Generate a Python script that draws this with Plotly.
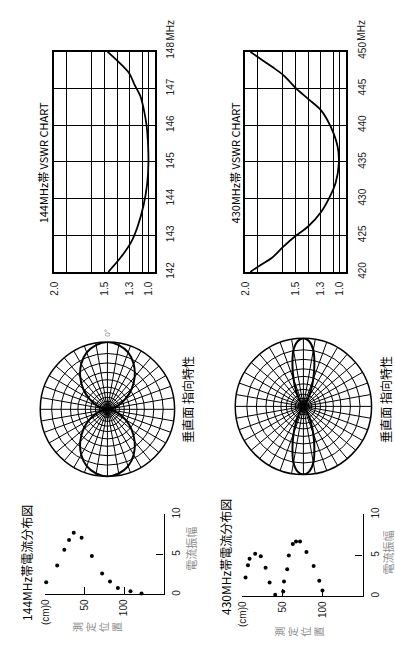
import plotly.graph_objects as go

W, H = 395, 652

# ---------------- data ----------------
# VSWR charts: x = position on the VSWR grid (divisions, 2.0 at 0 ... 1.0 at 7.5), y = frequency
vswr_grid_pos = [0, 1, 3, 4, 5, 6, 7, 7.5, 8]
vswr_grid_text = ["2.0", "", "", "1.5", "", "1.3", "", "1.0", ""]

vswr144_freq = [142.0, 142.4, 142.8, 143.2, 143.8, 144.4, 145.0, 145.6, 146.0, 146.4, 146.8, 147.1, 147.4, 147.7, 148.0]
vswr144_pos = [4.3, 5.3, 6.1, 6.6, 7.1, 7.4, 7.5, 7.45, 7.35, 7.15, 6.85, 6.4, 6.0, 5.2, 4.25]
freq144_ticks = [142, 143, 144, 145, 146, 147, 148]
freq144_text = ["142", "143", "144", "145", "146", "147", "148"]

vswr430_freq = [420.0, 421.0, 421.9, 423.5, 424.9, 426.2, 428.2, 430.5, 432.2, 434.9, 437.1, 439.8, 442.0, 443.6, 445.1, 446.8, 448.0, 449.0, 450.0]
vswr430_pos = [0.4, 1.25, 2.1, 3.05, 4.0, 5.0, 6.05, 6.8, 7.2, 7.45, 7.35, 6.8, 6.05, 5.0, 4.0, 3.05, 2.1, 1.25, 0.4]
freq430_ticks = [420, 425, 430, 435, 440, 445, 450]
freq430_text = ["420", "425", "430", "435", "440", "445", "450"]

# Vertical-plane radiation patterns (relative chart radius)
polar_circles = [0.07, 0.12, 0.18, 0.25, 0.33, 0.44, 0.55, 0.69, 0.83, 1.0]

pattern144_deg = [0, 10, 20, 30, 40, 50, 60, 70, 80, 90, 100, 110, 120, 130, 140, 150, 160, 170, 180,
                  190, 200, 210, 220, 230, 240, 250, 260, 270, 280, 290, 300, 310, 320, 330, 340, 350, 360]
pattern144_r = [1.0, 0.97, 0.9, 0.78, 0.63, 0.47, 0.31, 0.17, 0.06, 0.0, 0.06, 0.17, 0.31, 0.47, 0.63, 0.78, 0.9, 0.97, 1.0,
                0.97, 0.9, 0.78, 0.63, 0.47, 0.31, 0.17, 0.06, 0.0, 0.06, 0.17, 0.31, 0.47, 0.63, 0.78, 0.9, 0.97, 1.0]

pattern430_deg = [0, 5, 10, 15, 20, 25, 30, 40, 60, 90, 120, 140, 150, 155, 160, 165, 170, 175, 180,
                  185, 190, 195, 200, 205, 210, 220, 240, 270, 300, 320, 330, 335, 340, 345, 350, 355, 360]
pattern430_r = [1.0, 0.96, 0.84, 0.62, 0.42, 0.26, 0.14, 0.05, 0.02, 0.0, 0.02, 0.05, 0.14, 0.26, 0.42, 0.62, 0.84, 0.96, 1.0,
                0.96, 0.84, 0.62, 0.42, 0.26, 0.14, 0.05, 0.02, 0.0, 0.02, 0.05, 0.14, 0.26, 0.42, 0.62, 0.84, 0.96, 1.0]

# Current distribution (position cm, amplitude)
cur144_pos = [1, 15, 24, 30, 36, 46, 59, 72, 82, 92, 108, 122]
cur144_amp = [1.5, 3.6, 5.6, 6.8, 7.7, 7.1, 4.8, 2.6, 1.6, 0.8, 0.4, 0.1]

cur430_pos = [4, 7, 9, 16, 23, 29, 34, 41, 51, 52, 56, 58, 63, 67, 72, 80, 89, 96, 100]
cur430_amp = [2.3, 3.8, 4.6, 5.2, 4.9, 3.5, 1.7, 0.2, 0.6, 1.8, 3.3, 5.0, 6.4, 6.7, 6.7, 5.4, 3.7, 1.9, 0.7]

pos_ticks = [0, 50, 100]
pos_text = ["(cm)0", "50", "100"]
amp_ticks = [0, 5, 10]
amp_text = ["0", "5", "10"]

# ---------------- helpers (reference-pixel -> paper) ----------------
def px(a, b):
    return [a / W, b / W]

def py(top, bottom):
    return [1 - bottom / H, 1 - top / H]

FONT = "Liberation Sans, Noto Sans CJK JP, sans-serif"
JP = "Noto Sans CJK JP, sans-serif"
GRAY = "#8a8a8a"

fig = go.Figure()

fig.add_trace(go.Scatter(x=vswr144_pos, y=vswr144_freq, mode="lines", line=dict(color="black", width=1.8, shape="spline"),
                         xaxis="x", yaxis="y", cliponaxis=False))
fig.add_trace(go.Scatter(x=vswr430_pos, y=vswr430_freq, mode="lines", line=dict(color="black", width=1.8, shape="spline"),
                         xaxis="x2", yaxis="y2", cliponaxis=False))

fig.add_trace(go.Scatterpolar(theta=pattern144_deg, r=pattern144_r, mode="lines",
                              line=dict(color="black", width=2, shape="spline"), subplot="polar"))
fig.add_trace(go.Scatterpolar(theta=pattern430_deg, r=pattern430_r, mode="lines",
                              line=dict(color="black", width=2, shape="spline"), subplot="polar2"))

fig.add_trace(go.Scatter(x=cur144_pos, y=cur144_amp, mode="markers", marker=dict(color="black", size=4),
                         xaxis="x3", yaxis="y3", cliponaxis=False))
fig.add_trace(go.Scatter(x=cur430_pos, y=cur430_amp, mode="markers", marker=dict(color="black", size=4),
                         xaxis="x4", yaxis="y4", cliponaxis=False))

grid_box_x = dict(range=[0, 8], tickmode="array", tickvals=vswr_grid_pos, ticktext=vswr_grid_text,
                  tickangle=-90, showgrid=True, gridcolor="black", gridwidth=1, showline=True, mirror=True,
                  linecolor="black", linewidth=1.5, zeroline=False, ticks="", tickfont=dict(size=10, color="#222"),
                  ticklabelstandoff=4, fixedrange=True)
grid_box_y = dict(tickmode="array", side="right", tickangle=-90, showgrid=True, gridcolor="black", gridwidth=1,
                  showline=True, mirror=True, linecolor="black", linewidth=1.5, zeroline=False, ticks="",
                  tickfont=dict(size=10, color="#222"), ticklabelstandoff=6, fixedrange=True)

cur_x = dict(range=[0, 150], tickmode="array", tickvals=pos_ticks, ticktext=pos_text, tickangle=-90,
             ticks="inside", ticklen=7, tickcolor="black", tickwidth=1.2, showline=True, linecolor="black", linewidth=1.2,
             showgrid=False, zeroline=False, tickfont=dict(size=10, color="#222"), fixedrange=True)
cur_y = dict(range=[0, 10], tickmode="array", tickvals=amp_ticks, ticktext=amp_text, tickangle=-90, side="right",
             ticks="inside", ticklen=7, tickcolor="black", tickwidth=1.2, showline=True, linecolor="black", linewidth=1.2,
             showgrid=False, zeroline=False, tickfont=dict(size=10, color="#222"), ticklabelstandoff=3, fixedrange=True)

polar_common = dict(
    bgcolor="white",
    angularaxis=dict(rotation=90, direction="clockwise", tickmode="linear", tick0=0, dtick=10,
                     showticklabels=False, ticks="", gridcolor="black", gridwidth=1,
                     showline=True, linecolor="black", linewidth=1.5),
    radialaxis=dict(range=[0, 1], tickmode="array", tickvals=polar_circles, showticklabels=False, ticks="",
                    showline=False, gridcolor="black", gridwidth=1),
)

fig.update_layout(
    width=W, height=H, autosize=False,
    margin=dict(l=0, r=0, t=0, b=0),
    paper_bgcolor="white", plot_bgcolor="white",
    showlegend=False,
    font=dict(family=FONT, color="black", size=10),
    xaxis=dict(domain=px(49, 151), anchor="y", **grid_box_x),
    yaxis=dict(domain=py(43, 269), anchor="x", range=[142, 148], tickvals=freq144_ticks, ticktext=freq144_text, **grid_box_y),
    xaxis2=dict(domain=px(243, 345), anchor="y2", **grid_box_x),
    yaxis2=dict(domain=py(43, 269), anchor="x2", range=[420, 450], tickvals=freq430_ticks, ticktext=freq430_text, **grid_box_y),
    xaxis3=dict(domain=px(40, 160), anchor="y3", **cur_x),
    yaxis3=dict(domain=py(518, 600), anchor="x3", **cur_y),
    xaxis4=dict(domain=px(240, 362), anchor="y4", **cur_x),
    yaxis4=dict(domain=py(518, 602), anchor="x4", **cur_y),
    polar=dict(domain=dict(x=px(34, 172), y=py(341, 479)), **polar_common),
    polar2=dict(domain=dict(x=px(232, 372), y=py(337, 477)), **polar_common),
)

def ann(text, x, y, size=11, color="black", family=JP):
    fig.add_annotation(text=text, x=x / W, y=1 - y / H, xref="paper", yref="paper", showarrow=False,
                       textangle=-90, xanchor="center", yanchor="middle",
                       font=dict(size=size, color=color, family=family))

ann("144MHz帯 VSWR CHART", 37, 157, size=11)
ann("430MHz帯 VSWR CHART", 232, 157, size=11)
ann("垂直面 指向特性", 184, 400, size=12)
ann("垂直面 指向特性", 385, 400, size=12)
ann("144MHz帯電流分布図", 20, 568, size=12)
ann("430MHz帯電流分布図", 223, 562, size=12)
ann("電流振幅", 187, 553, size=11, color=GRAY)
ann("電流振幅", 388, 557, size=11, color=GRAY)
ann("測<br>定<br>位<br>置", 93, 634, size=10, color=GRAY)
ann("測<br>定<br>位<br>置", 298, 638, size=10, color=GRAY)
ann("0°", 103, 331, size=8, color=GRAY, family=FONT)

fig.add_annotation(text="MHz", x=1, y=148, xref="x domain", yref="y", xanchor="left", yanchor="bottom",
                   xshift=8, yshift=9, showarrow=False, textangle=-90, font=dict(size=10, color="#222", family=FONT))
fig.add_annotation(text="MHz", x=1, y=450, xref="x2 domain", yref="y2", xanchor="left", yanchor="bottom",
                   xshift=8, yshift=9, showarrow=False, textangle=-90, font=dict(size=10, color="#222", family=FONT))

# remove the page's default 8px body margin so the figure sits at (0, 0)
fig.write_html("out.html", config={"displayModeBar": False},
               post_script="document.body.style.margin='0';document.body.style.overflow='hidden';")
